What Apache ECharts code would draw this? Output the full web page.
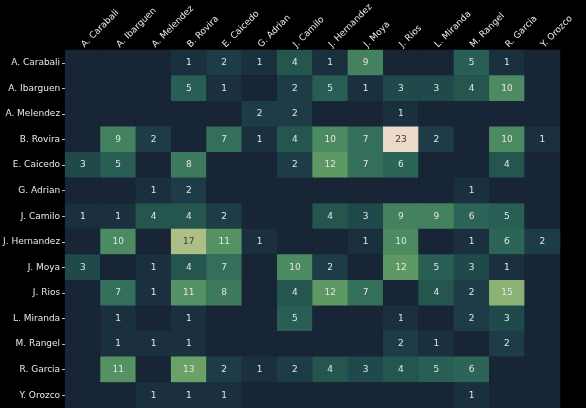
<!DOCTYPE html>
<html>
<head>
<meta charset="utf-8">
<script src="https://cdn.jsdelivr.net/npm/echarts@6/dist/echarts.min.js"></script>
<style>
  html, body { margin: 0; padding: 0; background: #000; }
  #chart { width: 586px; height: 408px; }
</style>
</head>
<body>
<div id="chart"></div>
<script>
// Players (same order on both axes)
const players = ['A. Carabali', 'A. Ibarguen', 'A. Melendez', 'B. Rovira', 'E. Caicedo',
  'G. Adrian', 'J. Camilo', 'J. Hernandez', 'J. Moya', 'J. Rios', 'L. Miranda',
  'M. Rangel', 'R. Garcia', 'Y. Orozco'];

// One row per player (y axis); columns follow the same player order (x axis)
const rowCarabali  = [0, 0, 0, 1, 2, 1, 4, 1, 9, 0, 0, 5, 1, 0];
const rowIbarguen  = [0, 0, 0, 5, 1, 0, 2, 5, 1, 3, 3, 4, 10, 0];
const rowMelendez  = [0, 0, 0, 0, 0, 2, 2, 0, 0, 1, 0, 0, 0, 0];
const rowRovira    = [0, 9, 2, 0, 7, 1, 4, 10, 7, 23, 2, 0, 10, 1];
const rowCaicedo   = [3, 5, 0, 8, 0, 0, 2, 12, 7, 6, 0, 0, 4, 0];
const rowAdrian    = [0, 0, 1, 2, 0, 0, 0, 0, 0, 0, 0, 1, 0, 0];
const rowCamilo    = [1, 1, 4, 4, 2, 0, 0, 4, 3, 9, 9, 6, 5, 0];
const rowHernandez = [0, 10, 0, 17, 11, 1, 0, 0, 1, 10, 0, 1, 6, 2];
const rowMoya      = [3, 0, 1, 4, 7, 0, 10, 2, 0, 12, 5, 3, 1, 0];
const rowRios      = [0, 7, 1, 11, 8, 0, 4, 12, 7, 0, 4, 2, 15, 0];
const rowMiranda   = [0, 1, 0, 1, 0, 0, 5, 0, 0, 1, 0, 2, 3, 0];
const rowRangel    = [0, 1, 1, 1, 0, 0, 0, 0, 0, 2, 1, 0, 2, 0];
const rowGarcia    = [0, 11, 0, 13, 2, 1, 2, 4, 3, 4, 5, 6, 0, 0];
const rowOrozco    = [0, 0, 1, 1, 1, 0, 0, 0, 0, 0, 0, 1, 0, 0];

const rows = [rowCarabali, rowIbarguen, rowMelendez, rowRovira, rowCaicedo, rowAdrian,
  rowCamilo, rowHernandez, rowMoya, rowRios, rowMiranda, rowRangel, rowGarcia, rowOrozco];

const maxVal = 23;
const FONT = 'DejaVu Sans';

const cells = [];
rows.forEach((row, y) => {
  row.forEach((v, x) => {
    cells.push({
      value: [x, y, v],
      label: { color: v >= 16 ? '#3c3c3c' : '#e4e4e4' }
    });
  });
});

const chart = echarts.init(document.getElementById('chart'), null, { renderer: 'canvas' });
chart.setOption({
  backgroundColor: '#000000',
  animation: false,
  grid: { left: 63, top: 50, width: 497, height: 360 },
  xAxis: {
    type: 'category',
    position: 'top',
    data: players,
    axisLine: { show: false },
    axisTick: { show: false },
    splitLine: { show: false },
    axisLabel: {
      rotate: -45, color: '#e8e8e8', fontFamily: FONT, fontSize: 9, margin: 4, interval: 0
    }
  },
  yAxis: {
    type: 'category',
    inverse: true,
    data: players,
    axisLine: { show: false },
    axisTick: { show: true, length: 3, lineStyle: { color: '#cccccc', width: 1 }, alignWithLabel: true },
    splitLine: { show: false },
    axisLabel: { color: '#e8e8e8', fontFamily: FONT, fontSize: 9, margin: 5, interval: 0 }
  },
  visualMap: {
    show: false,
    type: 'continuous',
    min: 0,
    max: maxVal,
    dimension: 2,
    inRange: {
      color: ['#172536', '#1d3d48', '#25584f', '#2d6759', '#3f7d5e', '#4f8d62',
              '#639d64', '#85b071', '#a9bd84', '#c8c899', '#dfd1b3', '#ecd9c7']
    }
  },
  series: [{
    type: 'heatmap',
    data: cells,
    label: {
      show: true,
      fontFamily: FONT,
      fontSize: 9,
      formatter: p => (p.value[2] > 0 ? String(p.value[2]) : '')
    },
    itemStyle: { borderWidth: 0 },
    emphasis: { disabled: true }
  }]
});
</script>
</body>
</html>
